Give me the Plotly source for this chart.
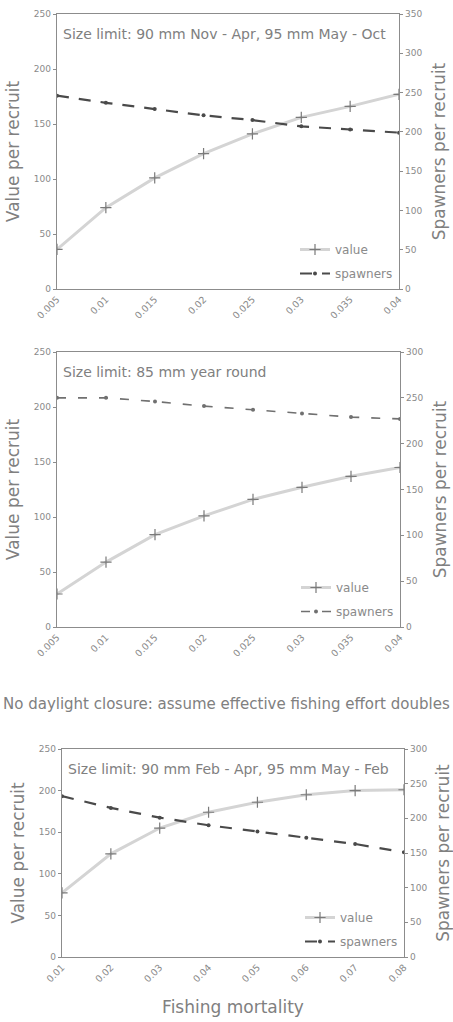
import plotly.graph_objects as go

# ---- data ----
f_a = [0.005, 0.01, 0.015, 0.02, 0.025, 0.03, 0.035, 0.04]
f_a_labels = ["0.005", "0.01", "0.015", "0.02", "0.025", "0.03", "0.035", "0.04"]
value_a = [36, 74, 101, 123, 141, 156, 166, 177]
spawn_a = [246, 237, 229, 221, 215, 207, 203, 199]

f_b = [0.005, 0.01, 0.015, 0.02, 0.025, 0.03, 0.035, 0.04]
f_b_labels = ["0.005", "0.01", "0.015", "0.02", "0.025", "0.03", "0.035", "0.04"]
value_b = [30, 59, 84, 101, 116, 127, 137, 145]
spawn_b = [250, 250, 246, 241, 237, 233, 229, 227]

f_c = [0.01, 0.02, 0.03, 0.04, 0.05, 0.06, 0.07, 0.08]
f_c_labels = ["0.01", "0.02", "0.03", "0.04", "0.05", "0.06", "0.07", "0.08"]
value_c = [77, 124, 155, 174, 186, 195, 200, 201]
spawn_c = [232, 215, 201, 190, 181, 172, 163, 151]

titles = ["Size limit: 90 mm Nov - Apr, 95 mm May - Oct",
          "Size limit: 85 mm year round",
          "Size limit: 90 mm Feb - Apr, 95 mm May - Feb"]
middle_note = "No daylight closure: assume effective fishing effort doubles"

W, H = 453, 1022
FONT = "DejaVu Sans"
TICKC = "#8a8a8a"
AXC = "#8c8c8c"
TITLEC = "#808080"

def px_x(p):
    return p / W

def px_y(p):
    return 1 - p / H

panels = [
    dict(f=f_a, lab=f_a_labels, v=value_a, s=spawn_a, x0=57, x1=399, y0=14, y1=289,
         r2=350, dash="12px,10px", sc="#4a4a4a", sw=2.2),
    dict(f=f_b, lab=f_b_labels, v=value_b, s=spawn_b, x0=57, x1=400, y0=352, y1=627,
         r2=300, dash="9px,12px", sc="#707070", sw=1.6),
    dict(f=f_c, lab=f_c_labels, v=value_c, s=spawn_c, x0=62, x1=404, y0=749, y1=957,
         r2=300, dash="12px,11px", sc="#4a4a4a", sw=2.2),
]

fig = go.Figure()
layout = dict(width=W, height=H, margin=dict(l=0, r=0, t=0, b=0, autoexpand=False),
              paper_bgcolor="white", plot_bgcolor="white",
              font=dict(family=FONT, color=TICKC, size=9))
annotations = []

for i, p in enumerate(panels):
    n = i + 1
    xa = "x" if n == 1 else f"x{n}"
    ya = f"y{2*n-1}" if n > 1 else "y"
    yb = f"y{2*n}"
    lg = "legend" if n == 1 else f"legend{n}"

    fig.add_trace(go.Scatter(
        x=p["f"], y=p["v"], xaxis=xa, yaxis=ya, name="value", legend=lg,
        legendgroup=f"v{n}", mode="lines+markers",
        line=dict(color="#d4d4d4", width=3),
        marker=dict(symbol="cross-thin", size=8, line=dict(color="#7a7a7a", width=1.2)),
    ))
    fig.add_trace(go.Scatter(
        x=p["f"], y=p["s"], xaxis=xa, yaxis=yb, name="spawners", legend=lg,
        legendgroup=f"s{n}", mode="lines+markers",
        line=dict(color=p["sc"], width=p["sw"], dash=p["dash"]),
        marker=dict(symbol="circle", size=4, color=p["sc"]),
    ))

    xdom = [px_x(p["x0"]), px_x(p["x1"])]
    ydom = [px_y(p["y1"]), px_y(p["y0"])]
    xkey = "xaxis" if n == 1 else f"xaxis{n}"
    ykey = "yaxis" if n == 1 else f"yaxis{2*n-1}"
    y2key = f"yaxis{2*n}"

    xaxis = dict(domain=xdom, anchor=ya, range=[p["f"][0], p["f"][-1]], automargin=False,
                 tickvals=p["f"], ticktext=p["lab"], tickangle=-45,
                 showline=True, linecolor=AXC, linewidth=1.3, mirror=True,
                 showgrid=False, zeroline=False, ticks="", tickfont=dict(size=9.5, color=TICKC))
    if n == 3:
        xaxis["title"] = dict(text="Fishing mortality", font=dict(size=17, color=TITLEC), standoff=17)
    layout[xkey] = xaxis

    layout[ykey] = dict(domain=ydom, anchor=xa, range=[0, 250], tickvals=[0, 50, 100, 150, 200, 250],
                        automargin=False,
                        showline=True, linecolor=AXC, linewidth=1.3, showgrid=False, zeroline=False,
                        ticks="outside", ticklen=3, tickcolor=AXC,
                        tickfont=dict(size=9, color=TICKC),
                        title=dict(text="Value per recruit", font=dict(size=17, color=TITLEC), standoff=9))
    r2 = p["r2"]
    layout[y2key] = dict(overlaying=ya, side="right", anchor=xa, range=[0, r2],
                         tickvals=list(range(0, r2 + 1, 50)), automargin=False,
                         showline=True, linecolor=AXC, linewidth=1.3, showgrid=False, zeroline=False,
                         ticks="outside", ticklen=3, tickcolor=AXC,
                         tickfont=dict(size=9, color=TICKC),
                         title=dict(text="Spawners per recruit", font=dict(size=17, color=TITLEC), standoff=11))

    layout[lg] = dict(x=px_x(p["x1"] - 1), y=px_y(p["y1"] - 1), xanchor="right", yanchor="bottom",
                      bgcolor="rgba(0,0,0,0)", font=dict(size=12, color="#8a8a8a"),
                      itemwidth=30, tracegroupgap=5)

    annotations.append(dict(text=titles[i], x=px_x(p["x0"] + 4), y=px_y(p["y0"] + 20),
                            xref="paper", yref="paper", xanchor="left", yanchor="middle",
                            showarrow=False, font=dict(size=14, color="#808080", family=FONT)))

annotations.append(dict(text=middle_note, x=0.5, y=px_y(704), xref="paper", yref="paper",
                        xanchor="center", yanchor="middle", showarrow=False,
                        font=dict(size=15, color="#808080", family=FONT)))
layout["annotations"] = annotations
fig.update_layout(**layout)
fig.write_html("out.html")
